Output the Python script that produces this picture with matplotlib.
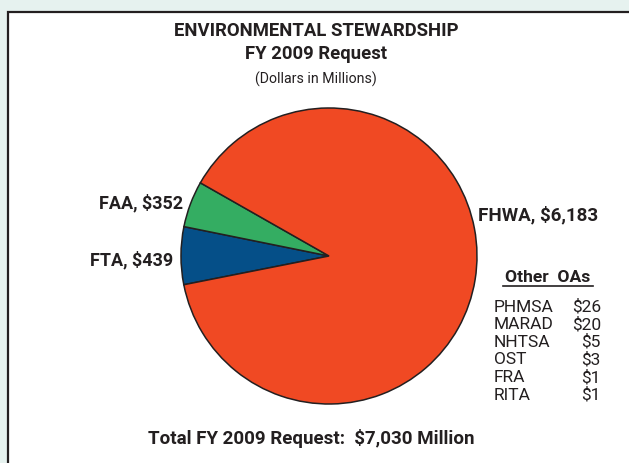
import matplotlib
matplotlib.use("Agg")
import matplotlib.pyplot as plt
from matplotlib.patches import Rectangle
from matplotlib import font_manager

# ---------------------- Data ----------------------
slice_names = ["FTA", "FAA", "FHWA"]
slice_values = [439, 352, 6183]
slice_colors = ["#054F88", "#34AD62", "#F04923"]

other_names = ["PHMSA", "MARAD", "NHTSA", "OST", "FRA", "RITA"]
other_values = [26, 20, 5, 3, 1, 1]

total_request = 7030

# pick a narrow-ish sans that is installed
available = {f.name for f in font_manager.fontManager.ttflist}
family = "DejaVu Sans"
for name in ["Liberation Sans Narrow", "Roboto", "Open Sans"]:
    if name in available:
        family = name
        break
plt.rcParams["font.family"] = family

W, H = 629, 463
fig = plt.figure(figsize=(W / 100, H / 100), dpi=100)
fig.patch.set_facecolor("#E6F2EF")
ax = fig.add_axes([0, 0, 1, 1])


def py(y):
    # pixel row (from top) to data y
    return H - y


# white frame
ax.add_patch(Rectangle((8, -20), 700, py(12) + 20, facecolor="white",
                       edgecolor="#231F20", linewidth=1.6, zorder=0))

wedges, _ = ax.pie(slice_values, colors=slice_colors, startangle=191.2,
                   counterclock=False, center=(329, py(256)), radius=148,
                   wedgeprops=dict(edgecolor="#231F20", linewidth=1.1))

ax.set_xlim(0, W)
ax.set_ylim(0, H)
ax.set_aspect("auto")
ax.axis("off")

txt = "#231F20"
ax.text(316, py(31), "ENVIRONMENTAL STEWARDSHIP", ha="center", va="center",
        fontsize=13.3, fontweight="bold", color=txt)
ax.text(316, py(54), "FY 2009 Request", ha="center", va="center",
        fontsize=13.3, fontweight="bold", color=txt)
ax.text(316, py(79), "(Dollars in Millions)", ha="center", va="center",
        fontsize=10.2, color=txt)

ax.text(183, py(203), f"{slice_names[1]}, ${slice_values[1]:,}", ha="right",
        va="center", fontsize=13, fontweight="bold", color=txt)
ax.text(173, py(260), f"{slice_names[0]}, ${slice_values[0]:,}", ha="right",
        va="center", fontsize=13, fontweight="bold", color=txt)
ax.text(478, py(215), f"{slice_names[2]}, ${slice_values[2]:,}", ha="left",
        va="center", fontsize=13.5, fontweight="bold", color=txt)

ax.text(548, py(278), "Other  OAs", ha="center", va="center",
        fontsize=12.6, fontweight="bold", color=txt)
ax.plot([503, 593], [py(286), py(286)], color=txt, linewidth=1.2)

for i, (name, val) in enumerate(zip(other_names, other_values)):
    y = py(307 + 17.6 * i)
    ax.text(494, y, name, ha="left", va="center", fontsize=12.5, color=txt)
    ax.text(601, y, f"${val}", ha="right", va="center", fontsize=12.5, color=txt)

ax.text(311, py(439), f"Total FY 2009 Request:  ${total_request:,} Million",
        ha="center", va="center", fontsize=13.5, fontweight="bold", color=txt)

fig.savefig("out.png", dpi=100, facecolor=fig.get_facecolor())
